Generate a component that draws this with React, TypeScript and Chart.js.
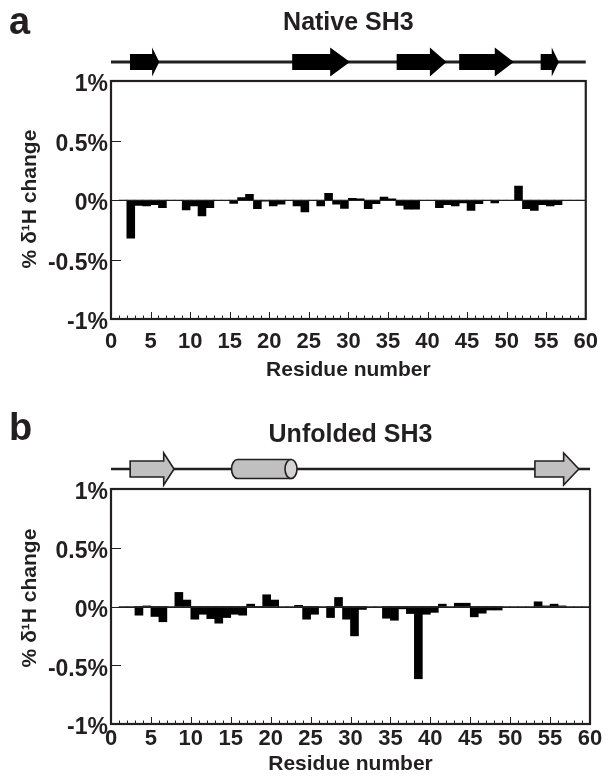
import React, { useEffect, useRef } from "react";
import { Chart, registerables } from "chart.js";

Chart.register(...registerables);

// ---------- DATA ----------
// residue n -> bar occupying [n, n+1] on the residue axis
const residues = Array.from({ length: 59 }, (_, i) => i + 1);

const nativeShift = [
  0, -0.32, -0.045, -0.05, -0.04, -0.065, 0, 0, -0.084, -0.05,
  -0.134, -0.065, 0, 0, -0.028, 0.02, 0.048, -0.073, -0.01, -0.05,
  -0.035, 0, -0.05, -0.1, 0, -0.05, 0.056, -0.035, -0.07, 0.015,
  0.01, -0.073, -0.03, 0.025, 0.01, -0.045, -0.078, -0.078, 0, 0,
  -0.065, -0.04, -0.05, -0.025, -0.087, -0.03, 0, -0.025, 0, 0,
  0.118, -0.073, -0.087, -0.04, -0.05, -0.04, 0, 0, 0,
];

const unfoldedShift = [
  0, 0, -0.074, 0.005, -0.085, -0.13, 0, 0.12, 0.055, -0.108,
  -0.066, -0.103, -0.142, -0.094, -0.066, -0.074, 0.02, -0.005, 0.1, 0.055,
  0, 0, 0.01, -0.108, -0.066, 0, -0.094, 0.077, -0.108, -0.25,
  -0.025, 0, 0, -0.1, -0.117, -0.02, -0.06, -0.615, -0.066, -0.05,
  0.02, 0, 0.028, 0.028, -0.088, -0.057, -0.03, -0.03, 0, 0,
  0, 0, 0.04, 0.005, 0.02, 0.005, 0, 0, 0,
];

const yTicks = [-1, -0.5, 0, 0.5, 1];
const xTickStep = 5;

// secondary structure (residue units): [start, head start, tip]
const nativeStrands = [
  [2.4, 5.2, 6.1],
  [22.9, 27.7, 30.2],
  [36.1, 40.3, 42.4],
  [44.0, 48.5, 50.9],
  [54.3, 55.7, 56.6],
];
const nativeHelices: number[][] = [];
const unfoldedStrands = [
  [2.4, 6.6, 7.9],
  [53.1, 56.7, 58.6],
];
const unfoldedHelices = [[15.1, 23.3]];

// ---------- STYLE ----------
const INK = "#231f20";
const FONT = "'Liberation Sans', Arial, sans-serif";

type PanelCfg = {
  letter: string;
  title: string;
  values: number[];
  strands: number[][];
  helices: number[][];
  height: number;
  top: number;
  padTop: number;
  padBottom: number;
  xTickPad: number;
  letterY: number;
  titleY: number;
  ssY: number;
  ssFill: string;
  ssStroke: number;
  bodyHalf: number;
  headHalf: number;
  lineW: number;
  xTitleY: number;
  yTitleY: number;
};

function makeDecor(cfg: PanelCfg) {
  return {
    id: "decor" + cfg.letter,
    afterDatasetsDraw(chart: any) {
      const { ctx, chartArea: a, scales } = chart;
      const x = scales.x;
      const y = scales.y;
      ctx.save();
      ctx.strokeStyle = INK;
      const y0 = Math.round(y.getPixelForValue(0)) + 0.5;
      ctx.lineWidth = 1.2;
      ctx.beginPath();
      ctx.moveTo(a.left, y0);
      ctx.lineTo(a.right, y0);
      ctx.stroke();
      ctx.lineWidth = 1;
      [0.5, -0.5].forEach((v) => {
        const py = Math.round(y.getPixelForValue(v)) + 0.5;
        ctx.beginPath();
        ctx.moveTo(a.left, py);
        ctx.lineTo(a.left + 10, py);
        ctx.stroke();
      });
      for (let i = 1; i < 60; i++) {
        const px = Math.round(x.getPixelForValue(i)) + 0.5;
        const len = i % 5 === 0 ? 7 : 3.5;
        ctx.beginPath();
        ctx.moveTo(px, a.bottom);
        ctx.lineTo(px, a.bottom - len);
        ctx.stroke();
      }
      ctx.lineWidth = 2.2;
      ctx.strokeRect(a.left, a.top, a.right - a.left, a.bottom - a.top);
      ctx.restore();
    },
    afterDraw(chart: any) {
      const { ctx, chartArea: a, scales } = chart;
      const x = scales.x;
      ctx.save();
      ctx.fillStyle = INK;
      ctx.font = `bold 38px ${FONT}`;
      ctx.textAlign = "left";
      ctx.textBaseline = "alphabetic";
      ctx.fillText(cfg.letter, 9, cfg.letterY);
      ctx.font = `bold 25px ${FONT}`;
      ctx.textAlign = "center";
      ctx.fillText(cfg.title, (a.left + a.right) / 2, cfg.titleY);
      ctx.font = `bold 21px ${FONT}`;
      ctx.textBaseline = "middle";
      ctx.fillText("Residue number", (a.left + a.right) / 2, cfg.xTitleY);
      ctx.save();
      ctx.translate(30, cfg.yTitleY);
      ctx.rotate(-Math.PI / 2);
      ctx.fillText("% \u03b4\u00b9H change", 0, 0);
      ctx.restore();

      const sy = cfg.ssY;
      ctx.strokeStyle = INK;
      ctx.lineWidth = cfg.lineW;
      ctx.beginPath();
      ctx.moveTo(a.left, sy);
      ctx.lineTo(a.right, sy);
      ctx.stroke();
      const bh = cfg.bodyHalf;
      const hh = cfg.headHalf;
      cfg.strands.forEach(([s, h, t]) => {
        const x0 = x.getPixelForValue(s);
        const xh = x.getPixelForValue(h);
        const xt = x.getPixelForValue(t);
        ctx.beginPath();
        ctx.moveTo(x0, sy - bh);
        ctx.lineTo(xh, sy - bh);
        ctx.lineTo(xh, sy - hh);
        ctx.lineTo(xt, sy);
        ctx.lineTo(xh, sy + hh);
        ctx.lineTo(xh, sy + bh);
        ctx.lineTo(x0, sy + bh);
        ctx.closePath();
        ctx.fillStyle = cfg.ssFill;
        ctx.fill();
        if (cfg.ssStroke > 0) {
          ctx.lineWidth = cfg.ssStroke;
          ctx.strokeStyle = INK;
          ctx.stroke();
        }
      });
      cfg.helices.forEach(([s, e]) => {
        const x0 = x.getPixelForValue(s);
        const x1 = x.getPixelForValue(e);
        const r = 9.5;
        const rx = 6;
        ctx.beginPath();
        ctx.moveTo(x1 - rx, sy - r);
        ctx.lineTo(x0 + rx, sy - r);
        ctx.ellipse(x0 + rx, sy, rx, r, 0, -Math.PI / 2, Math.PI / 2, true);
        ctx.lineTo(x1 - rx, sy + r);
        ctx.closePath();
        ctx.fillStyle = cfg.ssFill;
        ctx.fill();
        ctx.lineWidth = cfg.ssStroke;
        ctx.strokeStyle = INK;
        ctx.stroke();
        ctx.beginPath();
        ctx.ellipse(x1 - rx, sy, rx, r, 0, 0, Math.PI * 2);
        ctx.fillStyle = "#d4d4d4";
        ctx.fill();
        ctx.stroke();
      });
      ctx.restore();
    },
  };
}

function Panel({ cfg }: { cfg: PanelCfg }) {
  const ref = useRef<HTMLCanvasElement>(null);
  useEffect(() => {
    if (!ref.current) return;
    const data = residues.map((r, i) => ({ x: r + 0.5, y: cfg.values[i] }));
    const chart = new Chart(ref.current, {
      type: "bar",
      data: {
        datasets: [
          {
            data,
            backgroundColor: "#000000",
            borderWidth: 0,
            barPercentage: 1,
            categoryPercentage: 1,
          } as any,
        ],
      },
      options: {
        responsive: false,
        animation: false,
        devicePixelRatio: 1,
        layout: {
          padding: { top: cfg.padTop, right: 18, bottom: 0, left: 0 },
        },
        plugins: {
          legend: { display: false },
          tooltip: { enabled: false },
          title: { display: false },
        },
        scales: {
          x: {
            type: "linear",
            min: 0,
            max: 60,
            offset: false,
            grid: { display: false, drawTicks: false },
            border: { display: false },
            ticks: {
              stepSize: xTickStep,
              autoSkip: false,
              maxRotation: 0,
              padding: cfg.xTickPad,
              color: INK,
              font: { family: FONT, size: 22, weight: "bold" },
            },
            afterFit: (s: any) => {
              s.height = cfg.padBottom;
            },
          },
          y: {
            min: -1,
            max: 1,
            grid: { display: false, drawTicks: false },
            border: { display: false },
            afterBuildTicks: (s: any) => {
              s.ticks = yTicks.map((v) => ({ value: v }));
            },
            ticks: {
              padding: 3,
              labelOffset: 4,
              color: INK,
              font: { family: FONT, size: 23, weight: "bold" },
              callback: (v: any) => `${v}%`,
            },
            afterFit: (s: any) => {
              s.width = 111;
            },
          },
        },
      },
      plugins: [makeDecor(cfg)],
    } as any);
    return () => chart.destroy();
  }, [cfg]);
  return (
    <canvas
      ref={ref}
      width={608}
      height={cfg.height}
      style={{ position: "absolute", left: 0, top: cfg.top, width: 608, height: cfg.height }}
    />
  );
}

const panelA: PanelCfg = {
  letter: "a",
  title: "Native SH3",
  values: nativeShift,
  strands: nativeStrands,
  helices: nativeHelices,
  height: 400,
  top: 0,
  padTop: 81,
  padBottom: 81,
  xTickPad: 10,
  letterY: 34,
  titleY: 30,
  ssY: 62,
  ssFill: "#000000",
  ssStroke: 0,
  bodyHalf: 8,
  headHalf: 14.5,
  lineW: 3,
  xTitleY: 370,
  yTitleY: 199,
};

const panelB: PanelCfg = {
  letter: "b",
  title: "Unfolded SH3",
  values: unfoldedShift,
  strands: unfoldedStrands,
  helices: unfoldedHelices,
  height: 377,
  top: 400,
  padTop: 89,
  padBottom: 53,
  xTickPad: 2,
  letterY: 40,
  titleY: 42,
  ssY: 69,
  ssFill: "#c0c0c0",
  ssStroke: 1.6,
  bodyHalf: 8,
  headHalf: 16,
  lineW: 2.5,
  xTitleY: 364,
  yTitleY: 198,
};

export default function App() {
  return (
    <div style={{ position: "absolute", left: 0, top: 0, width: 608, height: 777, background: "#fff" }}>
      <Panel cfg={panelA} />
      <Panel cfg={panelB} />
    </div>
  );
}
